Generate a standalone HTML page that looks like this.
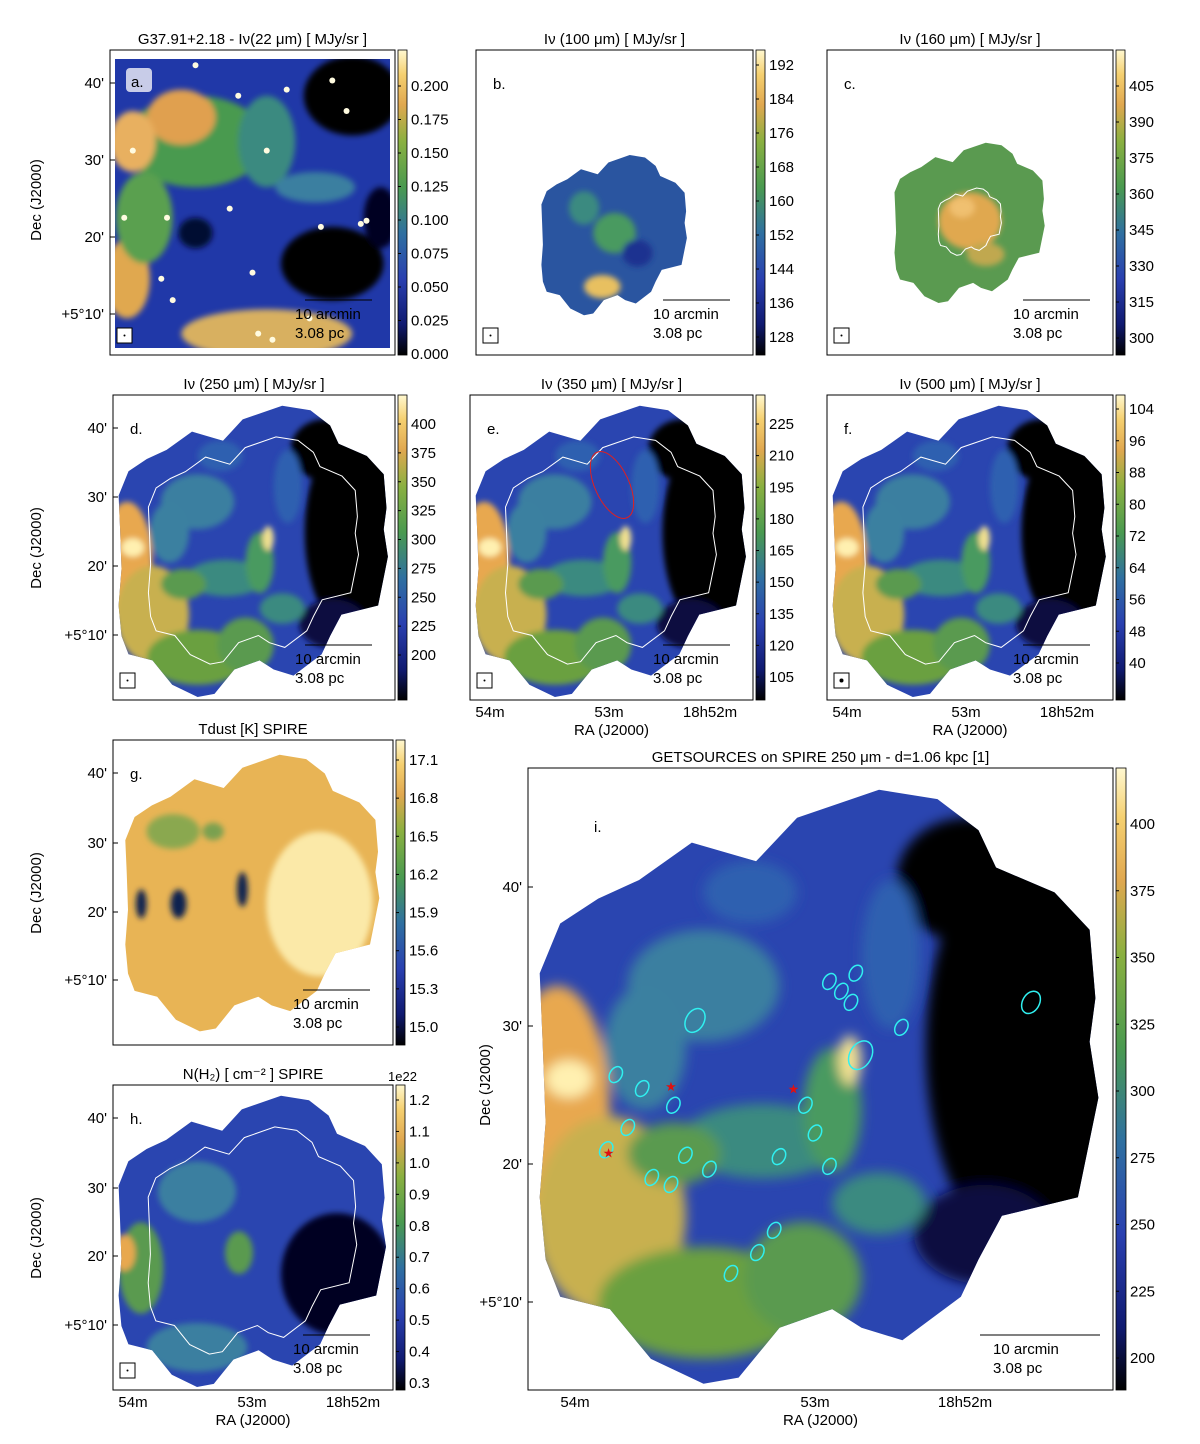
<!DOCTYPE html>
<html><head><meta charset="utf-8"><style>
html,body{margin:0;padding:0;background:#fff}
svg text{font-family:"Liberation Sans","DejaVu Sans",sans-serif;fill:#000}
</style></head><body>
<svg id="fig" width="1200" height="1439" viewBox="0 0 1200 1439" xmlns="http://www.w3.org/2000/svg">
<defs>
<linearGradient id="cmap" x1="0" y1="1" x2="0" y2="0">
<stop offset="0" stop-color="#000000"/><stop offset="0.1" stop-color="#101a70"/><stop offset="0.25" stop-color="#2a40b0"/><stop offset="0.4" stop-color="#2f70a0"/><stop offset="0.55" stop-color="#4a9a50"/><stop offset="0.7" stop-color="#8ab040"/><stop offset="0.82" stop-color="#e0a850"/><stop offset="0.92" stop-color="#f5d070"/><stop offset="1" stop-color="#fff8d0"/>
</linearGradient>
<filter id="blur" x="-50%" y="-50%" width="200%" height="200%"><feGaussianBlur stdDeviation="6"/></filter>
<filter id="blur2" x="-50%" y="-50%" width="200%" height="200%"><feGaussianBlur stdDeviation="3"/></filter>
</defs>
</svg>
<script>
const NS='http://www.w3.org/2000/svg';
const svg=document.getElementById('fig');
function el(tag,attrs,parent){const e=document.createElementNS(NS,tag);for(const k in attrs)e.setAttribute(k,attrs[k]);(parent||svg).appendChild(e);return e;}
function txt(x,y,s,size,anchor,parent){const t=el('text',{x:x,y:y,'font-size':size||15,'text-anchor':anchor||'start'},parent);t.textContent=s;return t;}

const shape=[[0.19,0.18],[0.28,0.12],[0.39,0.15],[0.46,0.08],[0.6,0.035],[0.7,0.05],[0.77,0.1],[0.8,0.16],[0.9,0.2],[0.96,0.26],[0.97,0.37],[0.96,0.44],[0.975,0.53],[0.94,0.69],[0.81,0.72],[0.77,0.79],[0.74,0.85],[0.64,0.92],[0.57,0.9],[0.52,0.87],[0.43,0.9],[0.36,0.98],[0.3,0.99],[0.21,0.95],[0.14,0.87],[0.055,0.85],[0.03,0.79],[0.02,0.69],[0.03,0.57],[0.025,0.44],[0.02,0.33],[0.055,0.25],[0.12,0.21]];

const panels={
 a:{x:110,y:50,w:285,h:305},b:{x:476,y:50,w:277,h:305},c:{x:827,y:50,w:286,h:305},
 d:{x:113,y:395,w:282,h:305},e:{x:470,y:395,w:283,h:305},f:{x:827,y:395,w:286,h:305},
 g:{x:113,y:740,w:280,h:305},h:{x:113,y:1085,w:280,h:305},i:{x:528,y:768,w:585,h:622}};

function poly(p,sc,cx,cy,insetScale){
 return shape.map(([x,y])=>{const X=cx+(x-0.5)*sc*insetScale, Y=cy+(y-0.5)*sc*insetScale;return (p.x+X*p.w).toFixed(1)+','+(p.y+Y*p.h).toFixed(1);}).join(' ');
}
const FIR=[[0.85,0.45,0.17,0.33,'#000'],[0.75,0.18,0.12,0.1,'#000'],[0.78,0.75,0.12,0.08,'#080c40'],[0.05,0.55,0.09,0.2,'#e8a850'],[0.14,0.72,0.13,0.16,'#c8b050'],[0.07,0.5,0.04,0.03,'#fff0b0'],[0.3,0.86,0.18,0.09,'#6aa040'],[0.47,0.82,0.1,0.09,'#5a9a50'],[0.4,0.6,0.14,0.06,'#3a8a80'],[0.3,0.35,0.13,0.09,'#3a7fa0'],[0.52,0.55,0.05,0.1,'#4a9a60'],[0.55,0.47,0.02,0.04,'#f0e090'],[0.2,0.45,0.07,0.1,'#3a80a0'],[0.62,0.3,0.05,0.12,'#2f60b0'],[0.25,0.62,0.08,0.05,'#5a9a50'],[0.6,0.7,0.08,0.05,'#3a8a80'],[0.38,0.2,0.08,0.05,'#2f60b0']];
const mapSpec={
 a:{full:true,base:'#2038a8',blobs:[[0.3,0.3,0.25,0.15,'#4a9a50'],[0.25,0.22,0.12,0.09,'#e0a050'],[0.08,0.3,0.08,0.1,'#e8b060'],[0.55,0.93,0.3,0.08,'#d8b060'],[0.06,0.75,0.08,0.13,'#e0a850'],[0.12,0.55,0.1,0.15,'#5aa050'],[0.85,0.15,0.17,0.13,'#000'],[0.78,0.7,0.18,0.12,'#000'],[0.95,0.55,0.06,0.1,'#050520'],[0.3,0.6,0.06,0.05,'#050830'],[0.55,0.3,0.1,0.15,'#3a8a80'],[0.72,0.45,0.14,0.05,'#3a7fa0']]},
 b:{sc:0.55,cx:0.5,cy:0.6,base:'#2a55a0',blobs:[[0.5,0.5,0.14,0.12,'#4a9a60'],[0.3,0.35,0.1,0.1,'#3a8a80'],[0.42,0.82,0.12,0.07,'#e8c060'],[0.65,0.62,0.1,0.08,'#1a3090']]},
 c:{sc:0.55,cx:0.5,cy:0.56,base:'#5a9a50',blobs:[[0.5,0.5,0.2,0.17,'#e0a850'],[0.45,0.42,0.08,0.06,'#f0c070'],[0.6,0.7,0.12,0.07,'#c0a850']],contour:0.42},
 d:{sc:1,cx:0.5,cy:0.5,base:'#2a45b0',blobs:FIR,contour:0.78},
 e:{sc:1,cx:0.5,cy:0.5,base:'#2a45b0',blobs:FIR,contour:0.78},
 f:{sc:1,cx:0.5,cy:0.5,base:'#2a45b0',blobs:FIR,contour:0.78},
 g:{sc:0.95,cx:0.5,cy:0.49,base:'#e8b455',blobs:[[0.75,0.55,0.2,0.25,'#fbe9a8'],[0.2,0.3,0.1,0.06,'#8aa850'],[0.08,0.55,0.02,0.05,'#102050'],[0.22,0.55,0.03,0.05,'#102050'],[0.46,0.5,0.02,0.06,'#102050'],[0.35,0.3,0.04,0.03,'#7aa050']]},
 h:{sc:1,cx:0.5,cy:0.5,base:'#2a45b0',blobs:[[0.8,0.62,0.2,0.2,'#050520'],[0.1,0.6,0.08,0.15,'#5a9a50'],[0.45,0.55,0.05,0.07,'#5a9a50'],[0.04,0.55,0.04,0.06,'#e8a850'],[0.3,0.35,0.14,0.1,'#3a7fa0'],[0.3,0.86,0.18,0.08,'#3a7fa0']],contour:0.78},
 i:{sc:1,cx:0.5,cy:0.5,base:'#2a45b0',blobs:FIR}
};
const starsA=[[0.12,0.1],[0.3,0.05],[0.45,0.15],[0.62,0.13],[0.83,0.2],[0.55,0.33],[0.2,0.55],[0.42,0.52],[0.74,0.58],[0.9,0.56],[0.88,0.57],[0.05,0.55],[0.18,0.75],[0.22,0.82],[0.5,0.73],[0.57,0.95],[0.52,0.93],[0.7,0.88],[0.08,0.33],[0.78,0.1]];

const cbTicks={a:['0.200','0.175','0.150','0.125','0.100','0.075','0.050','0.025','0.000'],b:['192','184','176','168','160','152','144','136','128'],c:['405','390','375','360','345','330','315','300'],d:['400','375','350','325','300','275','250','225','200'],e:['225','210','195','180','165','150','135','120','105'],f:['104','96','88','80','72','64','56','48','40'],g:['17.1','16.8','16.5','16.2','15.9','15.6','15.3','15.0'],h:['1.2','1.1','1.0','0.9','0.8','0.7','0.6','0.5','0.4','0.3'],i:['400','375','350','325','300','275','250','225','200']};
const cbTop={a:86,b:65,c:86,d:424,e:424,f:409,g:760,h:1100,i:824};
const cbBot={a:354,b:337,c:338,d:655,e:677,f:663,g:1027,h:1383,i:1358};
const titles={a:'G37.91+2.18 - Iν(22 μm)  [ MJy/sr ]',b:'Iν (100 μm) [ MJy/sr ]',c:'Iν (160 μm) [ MJy/sr ]',d:'Iν (250 μm) [ MJy/sr ]',e:'Iν (350 μm) [ MJy/sr ]',f:'Iν (500 μm) [ MJy/sr ]',g:'Tdust [K] SPIRE',h:'N(H₂) [ cm⁻² ] SPIRE',i:'GETSOURCES on SPIRE 250 μm  -  d=1.06 kpc [1]'};
const decLabels=["40'","30'","20'","+5°10'"];
const decY={a:[83,160,237,314],d:[428,497,566,635],g:[773,843,912,980],h:[1118,1188,1256,1325],i:[887,1026,1164,1302]};
const raLabels=['54m','53m','18h52m'];
const raX={e:[490,609,710],f:[847,966,1067],h:[133,252,353],i:[575,815,965]};

for(const k in panels){
 const p=panels[k],s=mapSpec[k];
 const g=el('g',{});
 
 
 const cp=el('clipPath',{id:'clip'+k},g);
 if(s.full) el('rect',{x:p.x+5,y:p.y+9,width:p.w-10,height:p.h-16},cp);
 else el('polygon',{points:poly(p,s.sc,s.cx,s.cy,1)},cp);
 const m=el('g',{'clip-path':'url(#clip'+k+')'},g);
 
 
 el('rect',{x:p.x,y:p.y,width:p.w,height:p.h,fill:s.base},m);
 const bg=el('g',{filter:'url(#'+(k==='i'?'blur':'blur2')+')'},m);
 for(const b of s.blobs){
  const cx=s.full?b[0]:s.cx+(b[0]-0.5)*s.sc, cy=s.full?b[1]:s.cy+(b[1]-0.5)*s.sc;
  el('ellipse',{cx:p.x+cx*p.w,cy:p.y+cy*p.h,rx:b[2]*p.w*(s.sc||1),ry:b[3]*p.h*(s.sc||1),fill:b[4]},bg);
 }
 if(k==='a') for(const st of starsA){el('circle',{cx:p.x+st[0]*p.w,cy:p.y+st[1]*p.h,r:3,fill:'#fffbe0'},m);}
 if(s.contour) el('polygon',{points:poly(p,s.sc,s.cx,s.cy,s.contour),fill:'none',stroke:'#fff','stroke-width':1},g);
 const fr=el('rect',{x:p.x,y:p.y,width:p.w,height:p.h,fill:'none',stroke:'#000','stroke-width':1},g);
 
 
 const cw=k==='i'?10:9, cx0=p.x+p.w+3;
 const cb=el('rect',{x:cx0,y:p.y,width:cw,height:p.h,fill:'url(#cmap)',stroke:'#000','stroke-width':0.8},g);
 
 
 const tl=cbTicks[k],n=tl.length;
 tl.forEach((t,i)=>{const y=cbTop[k]+(cbBot[k]-cbTop[k])*i/(n-1);
  el('line',{x1:cx0,x2:cx0+3,y1:y,y2:y,stroke:'#000'},g);
  const tt=txt(cx0+cw+4,y+5,t,15,'start',g);
  
  });
 if(k==='h'){txt(cx0-8,1081,'1e22',13,'start',g);}
 const tt=txt(p.x+p.w/2,p.y-6,titles[k],15,'middle',g);
 
 
 const lx=p.x+(k==='i'?66:17), ly=p.y+(k==='i'?64:(k==='a'?37:39));
 if(k==='a') el('rect',{x:p.x+16,y:p.y+18,width:26,height:24,rx:4,fill:'#c8cce8'},g);
 txt(k==='a'?p.x+21:lx,ly,k+'.',15,'start',g);
 if(k!=='i'){
  const sx=p.x+p.w-95, sy=p.y+p.h-55;
  el('line',{x1:sx+5,x2:sx+72,y1:sy,y2:sy,stroke:'#000'},g);
  const s1=txt(sx-5,sy+19,'10 arcmin',15,'start',g);
  
  
  txt(sx-5,sy+38,'3.08 pc',15,'start',g);
  if(k!=='g'){el('rect',{x:p.x+7,y:p.y+p.h-27,width:15,height:15,fill:'#fff',stroke:'#000'},g);
   el('circle',{cx:p.x+14.5,cy:p.y+p.h-19.5,r:k==='f'?2:1,fill:'#000'},g);}
 } else {
  el('line',{x1:980,x2:1100,y1:1335,y2:1335,stroke:'#000'},g);
  txt(993,1354,'10 arcmin',15,'start',g);txt(993,1373,'3.08 pc',15,'start',g);
 }
 if(decY[k]) decY[k].forEach((y,i)=>{const t=txt(p.x-6,y+5,decLabels[i],15,'end',g);el('line',{x1:p.x,x2:p.x+5,y1:y,y2:y,stroke:'#000'},g);});
 if(raX[k]){raX[k].forEach((x,i)=>{const t=txt(x,p.y+p.h+17,raLabels[i],15,'middle',g);});
  txt(p.x+p.w/2,p.y+p.h+35,'RA (J2000)',15,'middle',g);}
}
[[41,200],[41,548],[41,893],[41,1238]].forEach(([x,y])=>{const t=txt(x,y,'Dec (J2000)',15,'middle');t.setAttribute('transform','rotate(-90 '+x+' '+y+')');});
{const t=txt(490,1085,'Dec (J2000)',15,'middle');t.setAttribute('transform','rotate(-90 490 1085)');}
el('ellipse',{cx:612,cy:485,rx:17,ry:36,fill:'none',stroke:'#e02020','stroke-width':1,transform:'rotate(-25 612 485)'});

// panel i sources (RA minutes past 18h, Dec arcmin past +5°)
const srcRA=[53.50,52.94,52.83,52.89,52.85,52.81,52.10,52.64,53.83,53.72,53.59,53.78,53.87,53.54,53.44,53.68,53.60,53.04,53.00,53.15,52.94,53.17,53.24,53.35];
const srcDec=[30.4,33.2,33.8,32.5,31.7,27.9,31.7,29.9,26.5,25.5,24.3,22.7,21.1,20.7,19.7,19.1,18.6,24.3,22.3,20.6,19.9,15.3,13.7,12.2];
const srcSize=[1.5,1,1,1,1,1.8,1.4,1,1,1,1,1,1,1,1,1,1,1,1,1,1,1,1,1];
const starRA=[53.60,53.09,53.86];
const starDec=[25.7,25.5,20.9];
const xRA=ra=>575+(54-ra)*240;
const yDec=d=>887+(40-d)*13.9;
srcRA.forEach((ra,i)=>{const e=el('ellipse',{cx:xRA(ra),cy:yDec(srcDec[i]),rx:6*srcSize[i],ry:8.5*srcSize[i],fill:'none',stroke:'#30f0f0','stroke-width':1.5,transform:'rotate(30 '+xRA(ra)+' '+yDec(srcDec[i])+')'});
 
 });
starRA.forEach((ra,i)=>{const t=txt(xRA(ra),yDec(starDec[i])+5,'★',13,'middle');t.style.fill='#e01010';
 
 });
</script>
</body></html>
